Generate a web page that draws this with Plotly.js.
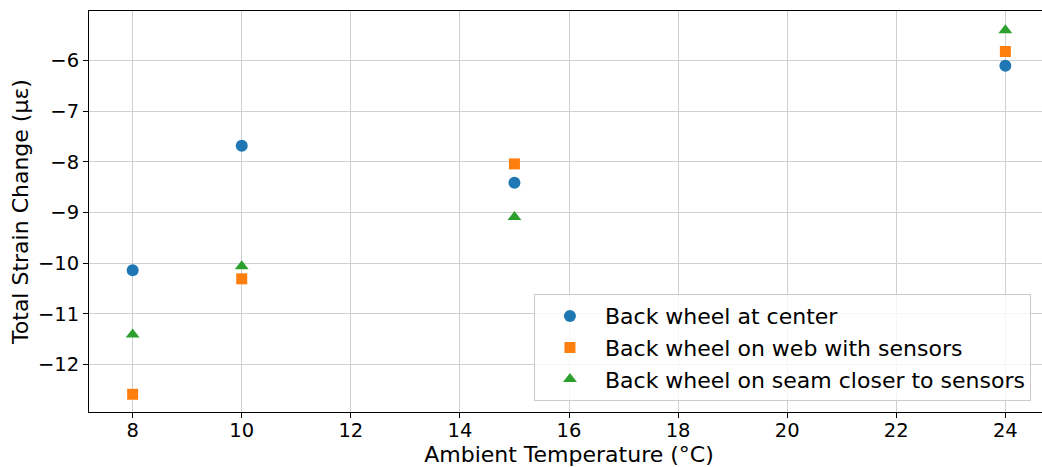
<!DOCTYPE html>
<html>
<head>
<meta charset="utf-8">
<script src="https://cdn.plot.ly/plotly-3.0.1.min.js"></script>
<style>
html,body{margin:0;padding:0;overflow:hidden;background:#fff;}
#chart{width:1050px;height:467px;}
</style>
</head>
<body>
<div id="chart"></div>
<script>
const temperatures = [8, 10, 15, 24];
const seriesNames = [
  "Back wheel at center",
  "Back wheel on web with sensors",
  "Back wheel on seam closer to sensors"
];
const centerValues = [-10.14, -7.68, -8.41, -6.10];
const webValues = [-12.59, -10.31, -8.04, -5.82];
const seamValues = [-11.41, -10.06, -9.09, -5.40];
const xTickValues = [8, 10, 12, 14, 16, 18, 20, 22, 24];
const yTickValues = [-12, -11, -10, -9, -8, -7, -6];

const font = "DejaVu Sans, sans-serif";

function series(name, ys, color, symbol, size) {
  return {
    type: "scatter", mode: "markers", name: name,
    x: temperatures, y: ys,
    marker: {color: color, symbol: symbol, size: size, line: {width: 0}}
  };
}

const data = [
  series(seriesNames[0], centerValues, "#1f77b4", "circle", 12),
  series(seriesNames[1], webValues, "#ff7f0e", "square", 11),
  series(seriesNames[2], seamValues, "#2ca02c", "triangle-up", 12)
];

const axisCommon = {
  showline: true, mirror: true, linecolor: "#000", linewidth: 1,
  ticks: "outside", ticklen: 5, tickwidth: 1, tickcolor: "#000",
  showgrid: true, gridcolor: "#d0d0d0", gridwidth: 1,
  zeroline: false,
  tickfont: {family: font, size: 19.5, color: "#000"}
};

const layout = {
  width: 1050, height: 467,
  margin: {l: 89, r: 1, t: 11, b: 55},
  paper_bgcolor: "#fff", plot_bgcolor: "#fff",
  font: {family: font, color: "#000"},
  xaxis: Object.assign({}, axisCommon, {
    range: [7.2, 24.8],
    tickvals: xTickValues,
    ticklabelstandoff: -4,
    title: {text: "Ambient Temperature (°C)", font: {family: font, size: 22, color: "#000"}, standoff: 6}
  }),
  yaxis: Object.assign({}, axisCommon, {
    range: [-12.94, -5.02],
    tickvals: yTickValues,
    title: {text: "Total Strain Change (με)", font: {family: font, size: 22, color: "#000"}, standoff: 3}
  }),
  showlegend: true,
  legend: {
    x: 0.4635, y: 0.294, xanchor: "left", yanchor: "top",
    bgcolor: "rgba(255,255,255,0.8)", bordercolor: "#cccccc", borderwidth: 1,
    font: {family: font, size: 22, color: "#000"},
    itemwidth: 60
  }
};

Plotly.newPlot("chart", data, layout, {displayModeBar: false, staticPlot: true});
</script>
</body>
</html>
